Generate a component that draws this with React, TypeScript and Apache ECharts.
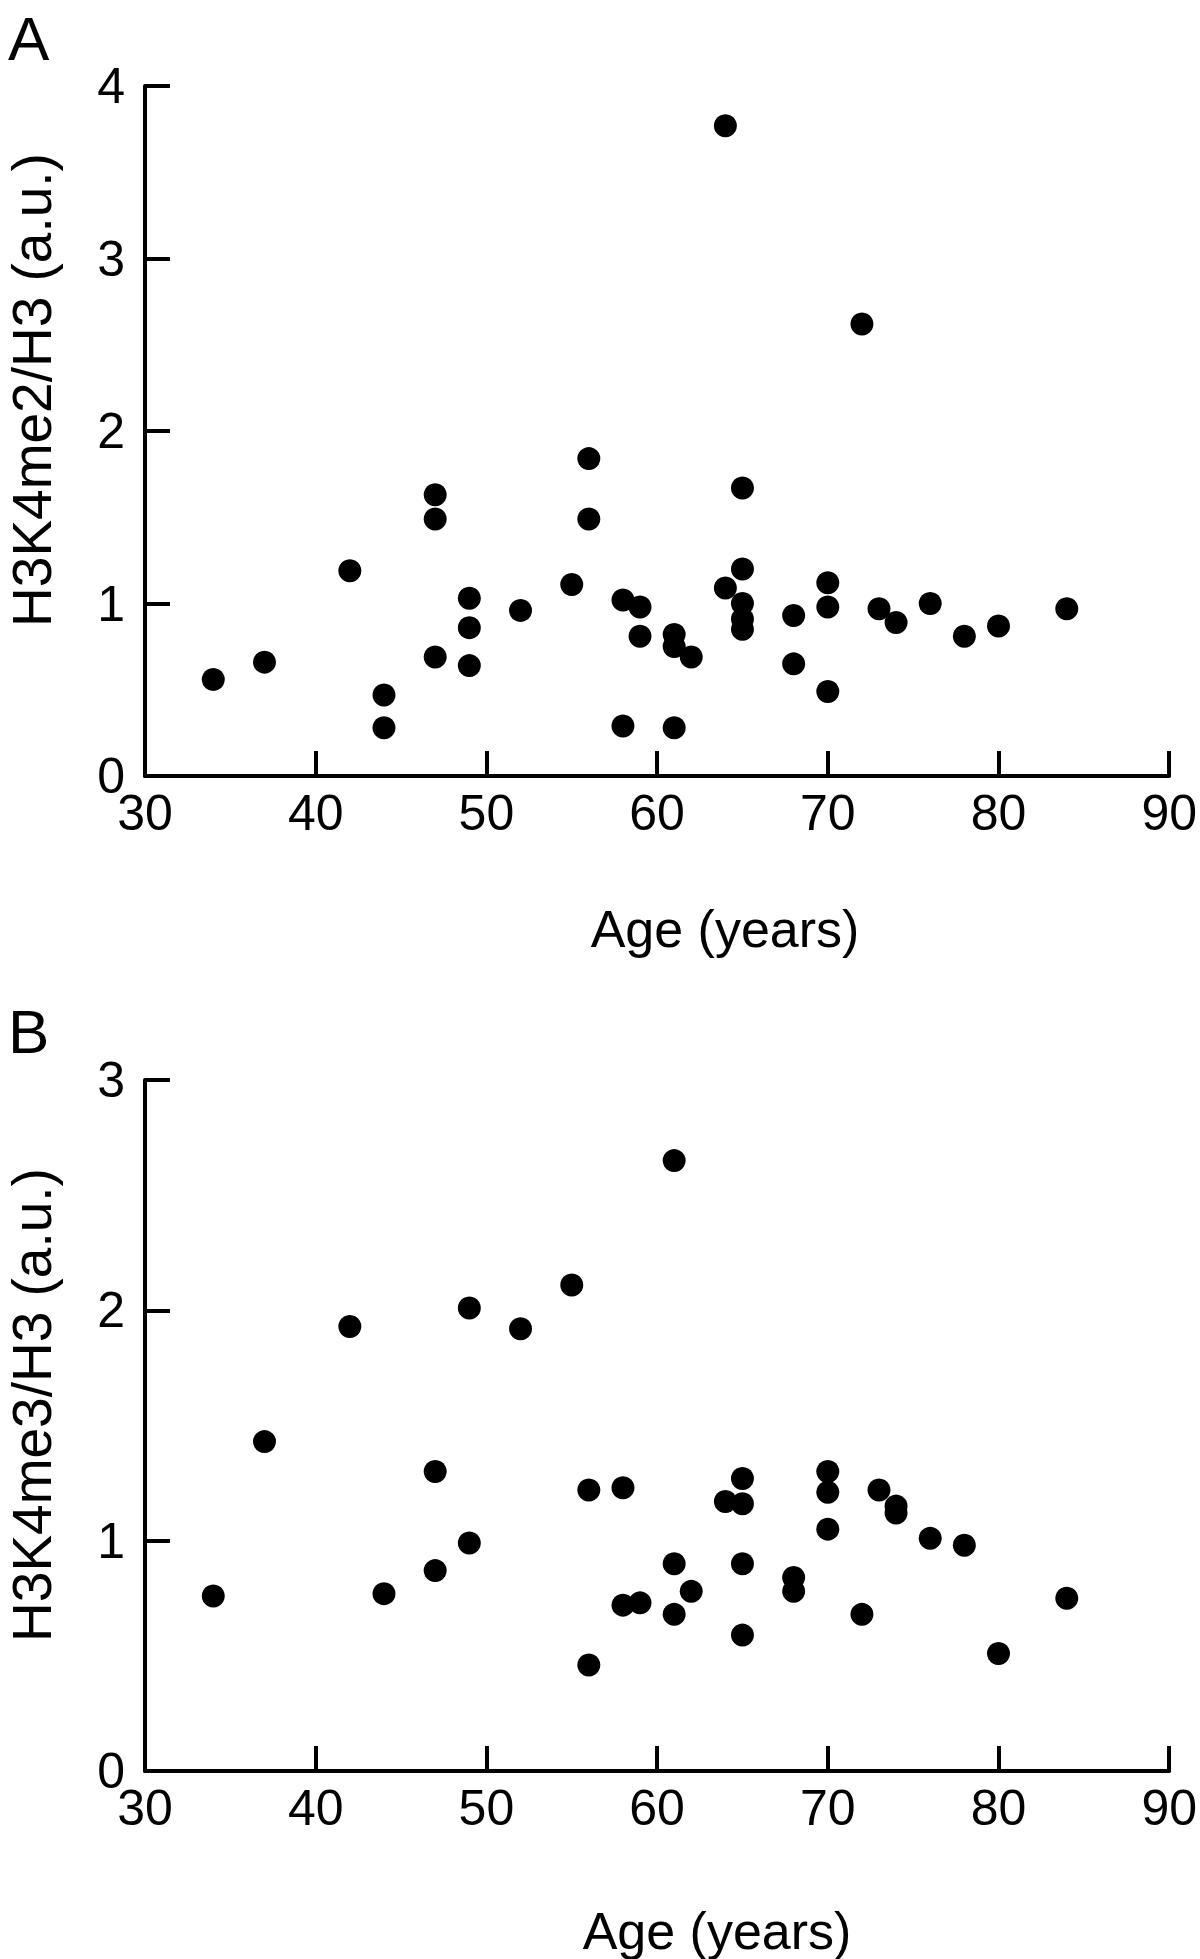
import React, { useEffect, useRef } from "react";
import * as echarts from "echarts";

// Panel A: H3K4me2/H3 vs age
const ageA = [34, 37, 42, 44, 44, 47, 47, 47, 49, 49, 49, 52, 55, 56, 56, 58, 58, 59, 59, 61, 61, 61, 62, 64, 64, 65, 65, 65, 65, 65, 68, 68, 70, 70, 70, 72, 73, 74, 76, 78, 80, 84];
const h3k4me2 = [0.56, 0.66, 1.19, 0.47, 0.28, 1.63, 1.49, 0.69, 1.03, 0.86, 0.64, 0.96, 1.11, 1.84, 1.49, 1.02, 0.29, 0.98, 0.81, 0.82, 0.75, 0.28, 0.69, 3.77, 1.09, 1.67, 1.2, 1.0, 0.91, 0.85, 0.93, 0.65, 1.12, 0.98, 0.49, 2.62, 0.97, 0.89, 1.0, 0.81, 0.87, 0.97];

// Panel B: H3K4me3/H3 vs age
const ageB = [34, 37, 42, 44, 47, 47, 49, 49, 52, 55, 56, 56, 58, 58, 59, 61, 61, 61, 62, 64, 65, 65, 65, 65, 68, 68, 70, 70, 70, 72, 73, 74, 74, 76, 78, 80, 84];
const h3k4me3 = [0.76, 1.43, 1.93, 0.77, 1.3, 0.87, 2.01, 0.99, 1.92, 2.11, 1.22, 0.46, 1.23, 0.72, 0.73, 2.65, 0.9, 0.68, 0.78, 1.17, 1.27, 1.16, 0.9, 0.59, 0.84, 0.78, 1.3, 1.21, 1.05, 0.68, 1.22, 1.15, 1.12, 1.01, 0.98, 0.51, 0.75];

const xTicks = [30, 40, 50, 60, 70, 80, 90];
const yMaxA = 4;
const yMaxB = 3;

const FONT = "'Liberation Sans', Arial, Helvetica, sans-serif";

export default function App() {
  const ref = useRef<HTMLDivElement>(null);

  useEffect(() => {
    if (!ref.current) return;
    const chart = echarts.init(ref.current, undefined, { renderer: "svg" });

    const axisLine = { show: true, lineStyle: { color: "#000", width: 4 } };
    const axisTick = { show: true, inside: true, length: 25, lineStyle: { color: "#000", width: 4 } };

    const makeX = (gridIndex: number) => ({
      type: "value",
      gridIndex,
      min: xTicks[0],
      max: xTicks[xTicks.length - 1],
      interval: 10,
      axisLine,
      axisTick,
      splitLine: { show: false },
      axisLabel: { color: "#000", fontSize: 50, fontFamily: FONT, margin: 12 },
    });
    const makeY = (gridIndex: number, max: number) => ({
      type: "value",
      gridIndex,
      min: 0,
      max,
      interval: 1,
      axisLine,
      axisTick,
      splitLine: { show: false },
      axisLabel: { color: "#000", fontSize: 50, fontFamily: FONT, margin: 20 },
    });

    const text = (t: string, x: number, y: number, size: number, rotation = 0, align = "center") => ({
      type: "text",
      x,
      y,
      rotation,
      style: {
        text: t,
        fill: "#000",
        font: `${size}px ${FONT}`,
        align,
        verticalAlign: "middle",
        textAlign: align,
        textVerticalAlign: "middle",
      },
    });

    const dotStyle = { color: "#000", opacity: 1 };

    chart.setOption({
      animation: false,
      backgroundColor: "#fff",
      grid: [
        { left: 145, top: 86, width: 1027, height: 690 },
        { left: 145, top: 1080, width: 1027, height: 691 },
      ],
      xAxis: [makeX(0), makeX(1)],
      yAxis: [makeY(0, yMaxA), makeY(1, yMaxB)],
      series: [
        {
          type: "scatter",
          xAxisIndex: 0,
          yAxisIndex: 0,
          symbol: "circle",
          symbolSize: 23,
          itemStyle: dotStyle,
          data: ageA.map((a, i) => [a, h3k4me2[i]]),
        },
        {
          type: "scatter",
          xAxisIndex: 1,
          yAxisIndex: 1,
          symbol: "circle",
          symbolSize: 23,
          itemStyle: dotStyle,
          data: ageB.map((a, i) => [a, h3k4me3[i]]),
        },
      ],
      graphic: [
        text("A", 8, 38, 62, 0, "left"),
        text("B", 8, 1031, 62, 0, "left"),
        text("H3K4me2/H3 (a.u.)", 32, 390, 55, Math.PI / 2),
        text("H3K4me3/H3 (a.u.)", 32, 1405, 55, Math.PI / 2),
        text("Age (years)", 725, 929, 52),
        text("Age (years)", 717, 1931, 52),
      ],
    });

    return () => chart.dispose();
  }, []);

  return (
    <div
      ref={ref}
      style={{ position: "absolute", left: 0, top: 0, width: 1200, height: 1959, background: "#fff" }}
    />
  );
}
